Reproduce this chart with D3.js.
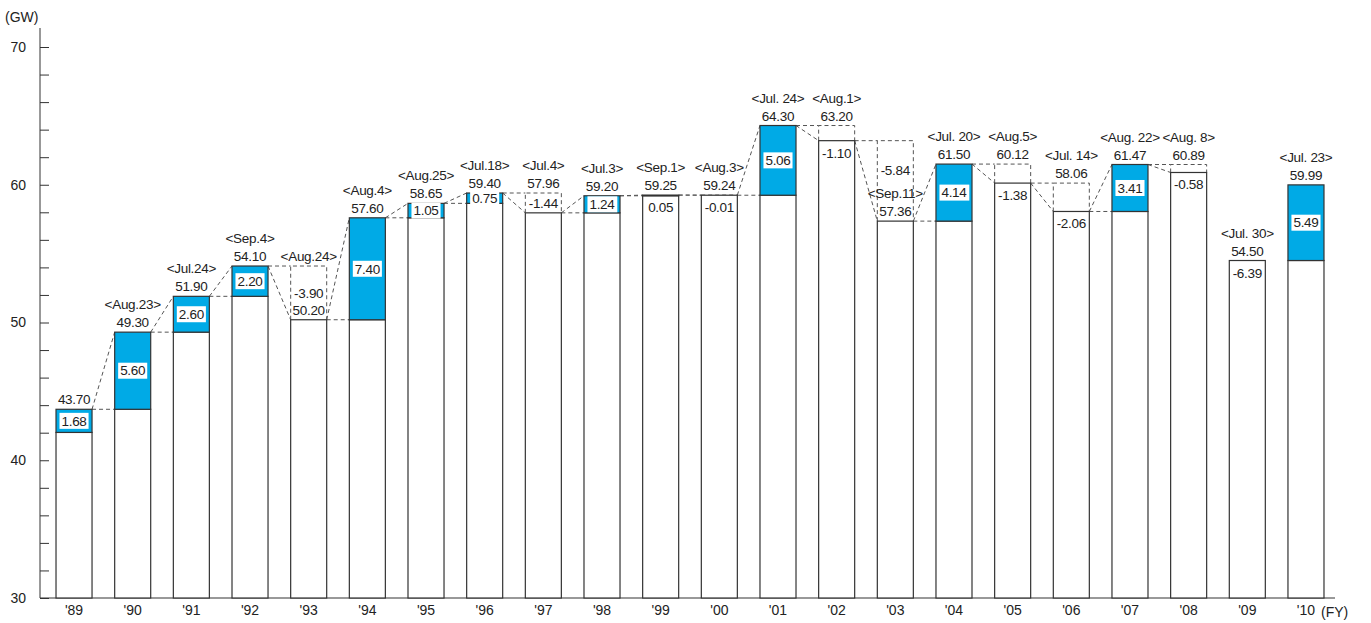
<!DOCTYPE html>
<html>
<head>
<meta charset="utf-8">
<script src="https://cdn.jsdelivr.net/npm/d3@7"></script>
<style>
  body { margin: 0; background: #fff; }
  text { font-family: "Liberation Sans", Arial, sans-serif; fill: #222; }
</style>
</head>
<body>
<div id="chart"></div>
<script>
// fiscal years, peak demand (GW), change from previous year, date of the peak
const years = ["'89", "'90", "'91", "'92", "'93", "'94", "'95", "'96", "'97", "'98", "'99",
               "'00", "'01", "'02", "'03", "'04", "'05", "'06", "'07", "'08", "'09", "'10"];
const peaks = [43.70, 49.30, 51.90, 54.10, 50.20, 57.60, 58.65, 59.40, 57.96, 59.20, 59.25,
               59.24, 64.30, 63.20, 57.36, 61.50, 60.12, 58.06, 61.47, 60.89, 54.50, 59.99];
const changes = [1.68, 5.60, 2.60, 2.20, -3.90, 7.40, 1.05, 0.75, -1.44, 1.24, 0.05,
                 -0.01, 5.06, -1.10, -5.84, 4.14, -1.38, -2.06, 3.41, -0.58, -6.39, 5.49];
const dates = ['', '<Aug.23>', '<Jul.24>', '<Sep.4>', '<Aug.24>', '<Aug.4>', '<Aug.25>', '<Jul.18>',
               '<Jul.4>', '<Jul.3>', '<Sep.1>', '<Aug.3>', '<Jul. 24>', '<Aug.1>', '<Sep.11>',
               '<Jul. 20>', '<Aug.5>', '<Jul. 14>', '<Aug. 22>', '<Aug. 8>', '<Jul. 30>', '<Jul. 23>'];
const yTicks = [30, 40, 50, 60, 70];

// the dashed year-to-year links stop at this year
const lastLinked = "'08";
// labels that sit inside the dashed "drop" box
const changeInBox = ["'93", "'97", "'03"];
const valueInBox = ["'93", "'03"];
const dateInBox = ["'03"];

const width = 1371;
const height = 623;
const blue = '#00aae6';
const barStroke = '#333';
const dashColor = '#555';
const labelSize = 13.5;

const svg = d3.select('#chart').append('svg')
  .attr('width', width)
  .attr('height', height);

const x = d3.scaleBand()
  .domain(years)
  .range([40, 1340])
  .paddingInner(0.386)
  .paddingOuter(0.273);

const y = d3.scaleLinear()
  .domain([30, 70])
  .range([598, 47]);

const bw = x.bandwidth();

// y axis
const yAxis = d3.axisLeft(y)
  .tickValues(d3.range(30, 71, 2))
  .tickSize(-9)
  .tickPadding(14)
  .tickFormat(d => yTicks.includes(d) ? d : '');

const gy = svg.append('g')
  .attr('transform', 'translate(40,0)')
  .call(yAxis);
gy.select('.domain').remove();
gy.selectAll('line').attr('stroke', '#333');
gy.selectAll('text').attr('font-size', 14).attr('fill', '#222')
  .style('font-family', '"Liberation Sans", Arial, sans-serif');

svg.append('line')
  .attr('x1', 40).attr('x2', 40)
  .attr('y1', 28).attr('y2', y(30))
  .attr('stroke', '#333');

svg.append('text')
  .attr('x', 5).attr('y', 22)
  .attr('font-size', 14)
  .text('(GW)');

// x axis
svg.append('line')
  .attr('x1', 40).attr('x2', 1335)
  .attr('y1', y(30)).attr('y2', y(30))
  .attr('stroke', '#333');

const xAxis = d3.axisBottom(x).tickSize(0).tickPadding(7);
const gx = svg.append('g')
  .attr('transform', `translate(0,${y(30)})`)
  .call(xAxis);
gx.select('.domain').remove();
gx.selectAll('text').attr('font-size', 14).attr('fill', '#222')
  .style('font-family', '"Liberation Sans", Arial, sans-serif');

svg.append('text')
  .attr('x', x(years[years.length - 1]) + bw / 2 + 15)
  .attr('y', y(30) + 19)
  .attr('font-size', 14)
  .text('(FY)');

const linkedIdx = years.indexOf(lastLinked);

// dashed links and drop boxes, drawn under the bars
const dashes = svg.append('g')
  .attr('fill', 'none')
  .attr('stroke', dashColor)
  .attr('stroke-width', 1)
  .attr('stroke-dasharray', '4,3');

years.forEach((yr, i) => {
  if (i === 0 || i > linkedIdx) return;
  const prev = peaks[i - 1];
  const px = x(years[i - 1]) + bw;
  const cx = x(yr);
  dashes.append('line')
    .attr('x1', px).attr('y1', y(prev))
    .attr('x2', cx).attr('y2', y(prev));
  dashes.append('line')
    .attr('x1', px).attr('y1', y(prev))
    .attr('x2', cx).attr('y2', y(peaks[i]));
  if (changes[i] < 0) {
    dashes.append('path')
      .attr('d', `M${cx},${y(peaks[i])}V${y(prev)}H${cx + bw}V${y(peaks[i])}`);
  }
});

// bars
years.forEach((yr, i) => {
  const peak = peaks[i];
  const prev = +(peak - changes[i]).toFixed(2);
  const base = Math.min(prev, peak);
  const bx = x(yr);

  svg.append('rect')
    .attr('x', bx).attr('width', bw)
    .attr('y', y(base)).attr('height', y(30) - y(base))
    .attr('fill', '#fff')
    .attr('stroke', barStroke)
    .attr('stroke-width', 1.2);

  if (changes[i] > 0) {
    svg.append('rect')
      .attr('x', bx).attr('width', bw)
      .attr('y', y(peak)).attr('height', y(prev) - y(peak))
      .attr('fill', blue)
      .attr('stroke', barStroke)
      .attr('stroke-width', 1.2);
  }
});

// labels
const labels = svg.append('g')
  .attr('font-size', labelSize)
  .attr('letter-spacing', -0.3)
  .attr('text-anchor', 'middle');

years.forEach((yr, i) => {
  const peak = peaks[i];
  const ch = changes[i];
  const prev = +(peak - ch).toFixed(2);
  const cx = x(yr) + bw / 2;
  const linked = i > 0 && i <= linkedIdx;
  const boxTop = (ch < 0 && linked) ? y(prev) : y(peak);

  const valueY = valueInBox.includes(yr) ? y(peak) - 5 : boxTop - 5;
  let dateY;
  if (dateInBox.includes(yr)) dateY = y(peak) - 23;
  else if (valueInBox.includes(yr)) dateY = boxTop - 5;
  else dateY = boxTop - 23;

  labels.append('text').attr('x', cx).attr('y', valueY).text(peak.toFixed(2));
  if (dates[i]) labels.append('text').attr('x', cx).attr('y', dateY).text(dates[i]);

  const chText = ch.toFixed(2);
  if (ch >= 0.5) {
    const cy = (y(peak) + y(prev)) / 2;
    const t = labels.append('text')
      .attr('x', cx).attr('y', cy).attr('dy', '0.35em')
      .text(chText);
    const bb = t.node().getBBox();
    labels.insert('rect', () => t.node())
      .attr('x', bb.x - 2).attr('y', cy - 8)
      .attr('width', bb.width + 4).attr('height', 16)
      .attr('fill', '#fff');
  } else if (changeInBox.includes(yr)) {
    const h = y(peak) - y(prev);
    labels.append('text')
      .attr('x', cx).attr('y', y(prev) + Math.min(h, 60) / 2).attr('dy', '0.35em')
      .text(chText);
  } else {
    labels.append('text')
      .attr('x', cx).attr('y', y(peak) + 17)
      .text(chText);
  }
});
</script>
</body>
</html>
